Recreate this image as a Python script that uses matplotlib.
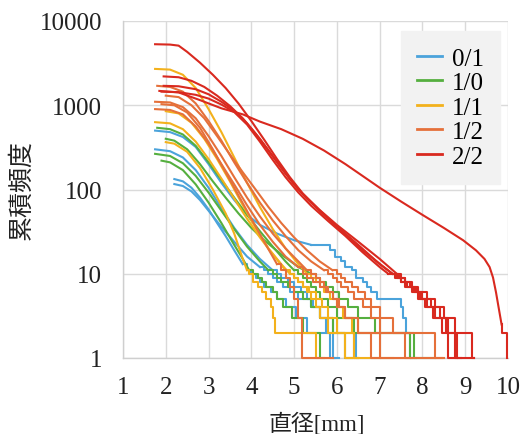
import matplotlib
matplotlib.use("Agg")
import matplotlib.pyplot as plt
from matplotlib.lines import Line2D

# ---------------- data ----------------
groups = ["0/1", "1/0", "1/1", "1/2", "2/2"]
group_colors = ["#4BA3DB", "#55AF3F", "#F3B11C", "#E5703A", "#D9291F"]
x_ticks = [1, 2, 3, 4, 5, 6, 7, 8, 9, 10]
y_ticks = [1, 10, 100, 1000, 10000]
y_ticklabels = ["1", "10", "100", "1000", "10000"]

# each curve: group, smooth head (diameter, cumulative count), step tail (diameter, count)
curves = [
    # ---- 0/1 ----
    ("0/1",
     [(1.75, 500), (2.1, 480), (2.4, 420), (2.7, 320), (3.0, 200), (3.3, 120), (3.6, 75), (3.9, 50),
      (4.2, 38), (4.6, 30), (5.0, 25), (5.4, 22)],
     [(5.85, 19), (5.95, 16), (6.1, 14), (6.2, 12), (6.35, 11), (6.45, 9), (6.6, 8), (6.7, 7), (6.8, 6),
      (6.93, 5), (7.5, 4), (7.55, 3), (7.62, 2), (7.7, 1), (7.75, 1)]),
    ("0/1",
     [(1.75, 300), (2.1, 285), (2.4, 240), (2.7, 170), (3.0, 105), (3.3, 60), (3.6, 35), (3.9, 22),
      (4.2, 15), (4.5, 11)],
     [(4.6, 10), (4.7, 9), (4.85, 8), (5.0, 7), (5.15, 6), (5.3, 5), (5.45, 4), (5.6, 3), (5.75, 2),
      (5.9, 1), (6.05, 1)]),
    ("0/1",
     [(2.2, 133), (2.4, 125), (2.6, 105), (2.8, 80), (3.0, 58), (3.2, 40), (3.4, 28), (3.6, 19), (3.8, 13)],
     [(3.9, 11), (4.0, 10), (4.1, 9), (4.2, 8), (4.3, 7), (4.45, 6), (4.6, 5), (4.8, 4), (5.05, 3),
      (5.3, 2), (5.85, 1), (5.95, 1)]),
    ("0/1",
     [(2.2, 116), (2.4, 110), (2.6, 95), (2.8, 75), (3.0, 56), (3.3, 36), (3.6, 24), (3.9, 16), (4.2, 12)],
     [(4.3, 11), (4.4, 10), (4.5, 9), (4.6, 8), (4.75, 7), (4.9, 6), (5.1, 5), (5.4, 4), (5.6, 3),
      (5.9, 2), (6.45, 1), (6.5, 1)]),
    # ---- 1/0 ----
    ("1/0",
     [(1.8, 540), (2.1, 520), (2.4, 450), (2.7, 330), (3.0, 210), (3.3, 130), (3.6, 80), (3.9, 50),
      (4.2, 32), (4.5, 21), (4.8, 14), (5.0, 11)],
     [(5.1, 10), (5.2, 9), (5.3, 8), (5.4, 7), (5.5, 6), (5.6, 5), (5.8, 4), (6.0, 3), (6.4, 2),
      (7.7, 1), (8.3, 1)]),
    ("1/0",
     [(1.75, 265), (2.1, 250), (2.4, 205), (2.7, 145), (3.0, 92), (3.3, 56), (3.6, 34), (3.9, 21),
      (4.2, 14), (4.4, 11)],
     [(4.5, 10), (4.6, 9), (4.7, 8), (4.85, 7), (5.0, 6), (5.2, 5), (5.4, 4), (5.6, 3), (5.9, 2),
      (6.2, 1), (6.35, 1)]),
    ("1/0",
     [(1.9, 220), (2.1, 210), (2.4, 170), (2.7, 115), (3.0, 70), (3.3, 40), (3.6, 22), (3.8, 15), (3.95, 11)],
     [(4.05, 10), (4.15, 9), (4.25, 8), (4.35, 7), (4.5, 6), (4.6, 5), (4.75, 4), (4.95, 3), (5.2, 2),
      (5.6, 1), (5.7, 1)]),
    ("1/0",
     [(2.0, 400), (2.2, 380), (2.5, 300), (2.8, 200), (3.1, 125), (3.4, 80), (3.7, 52), (4.0, 35),
      (4.3, 25), (4.7, 17), (5.1, 12), (5.4, 10)],
     [(5.5, 9), (5.6, 8), (5.75, 7), (5.9, 6), (6.05, 5), (6.25, 4), (6.5, 3), (6.9, 2), (7.8, 1), (7.85, 1)]),
    # ---- 1/1 ----
    ("1/1",
     [(1.75, 2700), (2.1, 2650), (2.4, 2300), (2.7, 1600), (3.0, 900), (3.3, 480), (3.6, 240), (3.9, 120),
      (4.2, 62), (4.5, 34), (4.8, 20), (5.1, 13), (5.3, 10)],
     [(5.4, 9), (5.5, 8), (5.6, 7), (5.7, 6), (5.85, 5), (6.0, 4), (6.15, 3), (6.35, 2), (6.4, 1), (7.3, 1)]),
    ("1/1",
     [(1.75, 630), (2.1, 610), (2.4, 520), (2.7, 370), (3.0, 230), (3.3, 135), (3.6, 78), (3.9, 45),
      (4.2, 27), (4.5, 17), (4.8, 11)],
     [(4.9, 10), (5.0, 9), (5.1, 8), (5.2, 7), (5.3, 6), (5.4, 5), (5.5, 4), (5.6, 3), (5.8, 2),
      (6.2, 1), (6.4, 1)]),
    ("1/1",
     [(2.0, 365), (2.2, 350), (2.5, 280), (2.8, 180), (3.1, 100), (3.4, 52), (3.6, 30), (3.8, 15), (3.9, 11)],
     [(3.95, 10), (4.05, 8), (4.15, 7), (4.25, 6), (4.35, 5), (4.45, 4), (4.5, 3), (4.55, 2), (5.5, 1), (5.55, 1)]),
    ("1/1",
     [(2.0, 850), (2.3, 800), (2.6, 620), (2.9, 400), (3.2, 230), (3.5, 125), (3.8, 65), (4.1, 35),
      (4.4, 20), (4.7, 13), (4.9, 10)],
     [(5.0, 9), (5.1, 8), (5.2, 7), (5.35, 6), (5.5, 5), (5.65, 4), (5.8, 3), (6.0, 2), (6.4, 1), (6.5, 1)]),
    # ---- 1/2 ----
    ("1/2",
     [(1.75, 1100), (2.1, 1080), (2.4, 950), (2.7, 700), (3.0, 430), (3.3, 250), (3.6, 140), (3.9, 80),
      (4.2, 48), (4.5, 30), (4.8, 20), (5.1, 14), (5.3, 11)],
     [(5.4, 10), (5.5, 9), (5.6, 8), (5.7, 7), (5.8, 6), (5.9, 5), (6.0, 4), (6.2, 3), (6.5, 2),
      (7.0, 1), (7.7, 1)]),
    ("1/2",
     [(1.9, 1030), (2.2, 1000), (2.5, 820), (2.8, 540), (3.1, 300), (3.4, 160), (3.7, 85), (4.0, 45),
      (4.3, 24), (4.6, 13)],
     [(4.7, 11), (4.8, 9), (4.9, 7), (5.0, 5), (5.1, 3), (5.18, 1), (5.9, 1)]),
    ("1/2",
     [(1.8, 1700), (2.1, 1650), (2.4, 1450), (2.7, 1050), (3.0, 650), (3.3, 380), (3.6, 210), (3.9, 120),
      (4.2, 70), (4.5, 43), (4.8, 28), (5.1, 19), (5.4, 14), (5.7, 11)],
     [(5.8, 10), (5.9, 9), (6.0, 8), (6.1, 7), (6.25, 6), (6.4, 5), (6.6, 4), (6.8, 3), (7.0, 2),
      (8.3, 1), (8.45, 1)]),
    ("1/2",
     [(2.0, 1300), (2.3, 1250), (2.6, 1000), (2.9, 700), (3.2, 430), (3.5, 260), (3.8, 160), (4.1, 100),
      (4.4, 62), (4.7, 40), (5.0, 27), (5.3, 19), (5.6, 14), (5.9, 11)],
     [(6.0, 10), (6.1, 9), (6.2, 8), (6.35, 7), (6.5, 6), (6.65, 5), (6.8, 4), (7.0, 3), (7.3, 2),
      (7.6, 1), (8.5, 1)]),
    ("1/2",
     [(1.75, 900), (2.1, 880), (2.4, 780), (2.7, 560), (3.0, 350), (3.3, 200), (3.6, 115), (3.9, 65),
      (4.2, 38), (4.5, 24), (4.8, 16), (5.1, 12)],
     [(5.2, 10), (5.3, 9), (5.45, 8), (5.6, 7), (5.75, 6), (5.9, 5), (6.05, 4), (6.2, 3), (6.5, 2),
      (6.8, 1), (7.0, 1)]),
    # ---- 2/2 ----
    ("2/2",
     [(1.75, 5300), (2.1, 5250), (2.3, 5100), (2.5, 4300), (2.8, 3200), (3.1, 2300), (3.4, 1600),
      (3.7, 1050), (4.0, 650), (4.3, 390), (4.6, 230), (4.9, 140), (5.2, 90), (5.6, 57), (6.0, 38),
      (6.5, 24), (7.0, 15), (7.4, 10)],
     [(7.5, 9), (7.6, 8), (7.7, 7), (7.85, 6), (8.0, 5), (8.2, 4), (8.4, 3), (8.6, 2), (8.8, 1), (9.2, 1)]),
    ("2/2",
     [(1.95, 2200), (2.3, 2150), (2.6, 1950), (2.9, 1650), (3.2, 1300), (3.5, 980), (3.8, 700), (4.1, 460),
      (4.4, 290), (4.7, 180), (5.0, 115), (5.3, 78), (5.7, 50), (6.1, 33), (6.5, 22), (7.0, 13), (7.3, 10)],
     [(7.4, 9), (7.5, 8), (7.65, 7), (7.8, 6), (7.95, 5), (8.1, 4), (8.3, 3), (8.55, 2), (8.75, 1), (8.9, 1)]),
    ("2/2",
     [(1.95, 1700), (2.3, 1680), (2.7, 1550), (3.0, 1350), (3.3, 1100), (3.6, 860), (3.9, 610), (4.2, 400),
      (4.5, 250), (4.8, 155), (5.1, 100), (5.4, 70), (5.8, 45), (6.2, 29), (6.6, 19), (7.1, 12), (7.3, 10)],
     [(7.45, 9), (7.6, 8), (7.75, 7), (7.9, 6), (8.1, 5), (8.3, 4), (8.5, 3), (8.75, 2), (9.15, 1), (9.2, 1)]),
    ("2/2",
     [(1.9, 1450), (2.3, 1430), (2.7, 1330), (3.0, 1200), (3.3, 1020), (3.6, 830), (3.9, 590), (4.2, 370),
      (4.5, 225), (4.8, 140), (5.1, 92), (5.4, 64), (5.8, 42), (6.2, 28), (6.6, 18), (7.0, 12), (7.2, 10)],
     [(7.35, 9), (7.5, 8), (7.6, 7), (7.75, 6), (7.9, 5), (8.05, 4), (8.25, 3), (8.45, 2), (8.6, 1), (8.8, 1)]),
    ("2/2",
     [(1.85, 1480), (2.3, 1420), (2.8, 1150), (3.3, 920), (3.8, 780), (4.2, 640), (4.7, 520), (5.2, 400),
      (5.7, 290), (6.2, 200), (6.6, 145), (7.0, 105), (7.5, 72), (8.0, 50), (8.5, 35), (8.95, 25),
      (9.25, 19), (9.45, 15), (9.57, 12), (9.65, 9), (9.72, 6), (9.78, 4), (9.85, 2.5)],
     [(9.87, 2), (9.97, 1)]),
]

# ---------------- style ----------------
SERIF = "Liberation Serif"
JP = ["Liberation Serif", "Noto Sans CJK JP"]
FS = 18

fig = plt.figure(figsize=(5.29, 4.35), dpi=100)
ax = fig.add_axes([123 / 529, 1 - 359 / 435, 385 / 529, 337 / 435])

color_of = dict(zip(groups, group_colors))
for g in groups:
    for grp, head, tail in curves:
        if grp != g:
            continue
        c = color_of[g]
        hx = [p[0] for p in head]
        hy = [p[1] for p in head]
        ax.plot(hx, hy, color=c, lw=1.5, clip_on=False, zorder=3)
        tx = [head[-1][0]] + [p[0] for p in tail]
        ty = [head[-1][1]] + [p[1] for p in tail]
        ax.plot(tx, ty, color=c, lw=1.5, drawstyle="steps-post", clip_on=False, zorder=3)

ax.set_yscale("log")
ax.set_xlim(1, 10)
ax.set_ylim(1, 10000)
ax.set_xticks(x_ticks)
ax.set_xticklabels([str(v) for v in x_ticks])
ax.set_yticks(y_ticks)
ax.set_yticklabels(y_ticklabels)
ax.yaxis.set_minor_locator(matplotlib.ticker.NullLocator())
ax.tick_params(length=0, labelsize=FS, labelcolor="#222222")
ax.tick_params(axis="y", pad=15)
ax.tick_params(axis="x", pad=13)
for lab in ax.get_xticklabels() + ax.get_yticklabels():
    lab.set_family(SERIF)

ax.grid(True, color="#DADADA", lw=1.0, zorder=0)
ax.set_axisbelow(True)
for side in ["top", "right"]:
    ax.spines[side].set_visible(False)
for side in ["left", "bottom"]:
    ax.spines[side].set_color("#CFCFCF")
    ax.spines[side].set_linewidth(1.0)

fig.text(22 / 529, 1 - 190 / 435, "累積頻度", rotation=90, ha="center", va="center",
         fontsize=18, family=JP, color="#222222")
fig.text(317 / 529, 1 - 424 / 435, "直径[mm]", ha="center", va="center",
         fontsize=16.5, family=JP, color="#222222")

handles = [Line2D([0], [0], color=c, lw=2.0) for c in group_colors]
leg = ax.legend(handles, groups, loc="upper right", bbox_to_anchor=(0.979, 0.97),
                frameon=True, fancybox=False, framealpha=1.0, facecolor="#F2F2F2",
                edgecolor="#F2F2F2", prop={"family": SERIF, "size": FS},
                handlelength=1.0, handletextpad=0.4, labelspacing=0.08,
                borderpad=0.64, borderaxespad=0)
leg.set_zorder(5)

fig.savefig("out.png", dpi=100)
